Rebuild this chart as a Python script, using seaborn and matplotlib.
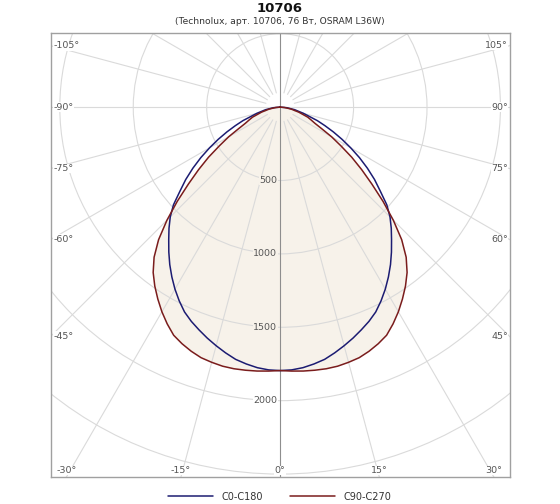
import numpy as np
import pandas as pd
import matplotlib
matplotlib.use("Agg")
import matplotlib.pyplot as plt
from matplotlib.patches import Circle
import seaborn as sns

# Luminous intensity (cd), 0..90 deg, symmetric halves
ANGLES = [0, 2.5, 5, 7.5, 10, 12.5, 15, 17.5, 20, 22.5, 25, 27.5, 30, 32.5,
          35, 37.5, 40, 42.5, 45, 47.5, 50, 52.5, 55, 57.5, 60, 62.5, 65,
          67.5, 70, 75, 80, 85, 90]
C0_C180 = [1795, 1792, 1782, 1765, 1745, 1715, 1683, 1650, 1615, 1580, 1540,
           1488, 1432, 1372, 1310, 1245, 1180, 1120, 1058, 985, 890, 810, 725,
           640, 555, 475, 400, 330, 270, 165, 100, 45, 0]
C90_C270 = [1795, 1800, 1805, 1808, 1810, 1808, 1800, 1790, 1770, 1745, 1715,
            1665, 1610, 1550, 1488, 1420, 1335, 1225, 1090, 950, 815, 700, 595,
            490, 405, 320, 262, 228, 200, 130, 75, 30, 0]
SERIES = ["C0-C180", "C90-C270"]
RINGS = [500, 1000, 1500, 2000, 2500]
RING_LABELS = [500, 1000, 1500, 2000]
ANGLE_LABELS = list(range(-105, 106, 15))

TITLE = "10706"
SUBTITLE = "(Technolux, арт. 10706, 76 Вт, OSRAM L36W)"

BLUE = "#1c1c72"
RED = "#7a1c1c"
FILL = "#f7f2ea"
GRID = "#dadada"
TXT = "#555555"


def to_xy(angles, values):
    a = np.radians(angles)
    v = np.asarray(values, dtype=float)
    return v * np.sin(a), -v * np.cos(a)


def full_curve(values):
    ang = np.array(ANGLES, dtype=float)
    v = np.array(values, dtype=float)
    ang_full = np.concatenate([-ang[::-1], ang[1:]])
    v_full = np.concatenate([v[::-1], v[1:]])
    return ang_full, v_full


sns.set_style("white")
plt.rcParams["font.family"] = ["DejaVu Sans"]

fig = plt.figure(figsize=(5.6, 5.04), dpi=100)
ax = fig.add_axes([51 / 560, 27 / 504, 459 / 560, 444 / 504])
xmin, xmax, ymin, ymax = -1560, 1565, -2520, 505
ax.set_xlim(xmin, xmax)
ax.set_ylim(ymin, ymax)

# curve table
rows = []
for name, vals in zip(SERIES, [C0_C180, C90_C270]):
    a, v = full_curve(vals)
    x, y = to_xy(a, v)
    for i in range(len(x)):
        rows.append({"series": name, "order": i, "x": x[i], "y": y[i]})
df = pd.DataFrame(rows)

# fill under C90-C270
red = df[df.series == "C90-C270"]
ax.fill(red.x, red.y, color=FILL, zorder=1, lw=0)

# grid circles
for r in RINGS:
    ax.add_patch(Circle((0, 0), r, fill=False, ec=GRID, lw=0.8, zorder=2))

# spokes every 15 deg, leaving a small gap at the centre
r_in = 100
for a in range(0, 360, 15):
    if a % 90 == 0:
        continue
    x, y = to_xy([a, a], [r_in, 5000])
    ax.plot(x, y, color=GRID, lw=0.8, zorder=2)
ax.plot([xmin, xmax], [0, 0], color=GRID, lw=0.8, zorder=2)
ax.plot([0, 0], [ymin, ymax], color="#8e8e8e", lw=0.8, zorder=2)

sns.lineplot(data=df, x="x", y="y", hue="series", sort=False, estimator=None,
             units="series", palette=[BLUE, RED], lw=1.1, ax=ax, zorder=3)
handles, labels = ax.get_legend_handles_labels()
ax.get_legend().remove()

# radial labels
for r in RING_LABELS:
    fc = FILL if r < C90_C270[0] else "white"
    ax.annotate(str(r), (0, -r), xytext=(-2, 0), textcoords="offset points",
                ha="right", va="center", fontsize=6.8, color=TXT, zorder=4,
                bbox=dict(fc=fc, ec="none", pad=0.3))

# angle labels at the frame
for a in ANGLE_LABELS:
    dx, dy = np.sin(np.radians(a)), -np.cos(np.radians(a))
    tx = (xmax if dx > 0 else xmin) / dx if abs(dx) > 1e-9 else np.inf
    ty = (ymax if dy > 0 else ymin) / dy if abs(dy) > 1e-9 else np.inf
    t = min(tx, ty)
    px, py = t * dx, t * dy
    if tx < ty:
        off, ha, va = ((-1.5, 0), "right", "center") if dx > 0 else ((1.5, 0), "left", "center")
    else:
        off, ha, va = (0, 1.5), "center", "bottom"
    ax.annotate(f"{a}°", (px, py), xytext=off, textcoords="offset points",
                ha=ha, va=va, fontsize=6.8, color=TXT, zorder=4,
                bbox=dict(fc="white", ec="none", pad=0.3))

ax.set_xticks([])
ax.set_yticks([])
ax.set_xlabel("")
ax.set_ylabel("")
for s in ax.spines.values():
    s.set_color("#a0a0a0")
    s.set_linewidth(1.0)

fig.text(0.5, 1 - 8 / 504, TITLE, ha="center", va="center",
         fontsize=9.5, fontweight="bold", color="#111111")
fig.text(0.5, 1 - 22 / 504, SUBTITLE, ha="center", va="center",
         fontsize=6.6, color="#333333")

fig.legend(handles, labels, loc="center", bbox_to_anchor=(0.5, 7.5 / 504),
           ncol=2, frameon=False, fontsize=7, handlelength=4.6,
           columnspacing=2.8, handletextpad=0.9, labelcolor="#333333")

fig.savefig("out.png", dpi=100)
